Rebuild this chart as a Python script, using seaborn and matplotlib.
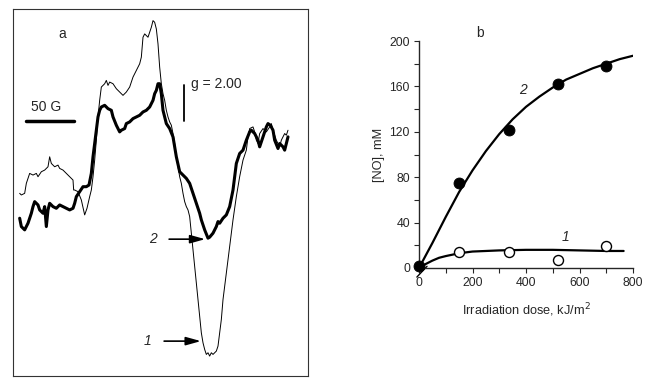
import numpy as np
import pandas as pd
import matplotlib
matplotlib.use("Agg")
import matplotlib.pyplot as plt
import seaborn as sns

field_1 = [60, 65, 75, 80, 90, 100, 110, 115, 125, 135, 145, 150, 155, 165, 175, 180, 190, 200, 210, 220,
           222, 225, 235, 245, 255, 262, 270, 275, 280, 285, 290, 295, 300, 305, 315, 320, 325, 330, 340,
           350, 360, 370, 380, 390, 400, 410, 420, 425, 430, 435, 440, 445, 450, 455, 460, 465, 470, 475,
           480, 485, 490, 495, 500, 505, 510, 515, 520, 525, 530, 535, 540, 545, 550, 555, 560, 565, 570,
           575, 580, 585, 590, 595, 600, 605, 610, 615, 620, 625, 630, 635, 640, 650, 655, 660, 665, 670,
           680, 690, 700, 710, 720, 730, 740, 745, 750, 760, 765, 770, 775, 780, 790, 800, 810, 815, 820,
           830, 840, 845, 850, 855, 860, 865]
depth_1 = [580, 585, 580, 550, 520, 525, 520, 530, 515, 510, 500, 470, 490, 500, 495, 505, 510, 520, 530, 540,
           570, 570, 575, 600, 645, 625, 590, 570, 530, 480, 420, 350, 300, 260, 250, 240, 255, 245, 250,
           265, 275, 285, 275, 260, 230, 210, 190, 170, 110, 100, 105, 110, 95, 80, 60, 65, 85, 130,
           200, 250, 280, 300, 330, 350, 365, 375, 400, 430, 470, 500, 530, 550, 580, 605, 620, 630, 650,
           700, 750, 800, 850, 900, 950, 1000, 1030, 1050, 1065, 1060, 1070, 1060, 1065, 1055, 1040, 1000, 960, 900,
           820, 740, 660, 590, 530, 480, 450, 410, 385, 380, 395, 420, 430, 400, 385, 395, 380, 370, 390,
           420, 440, 420, 410, 400, 405, 390]

field_2 = [60, 65, 75, 85, 95, 100, 105, 115, 120, 130, 135, 140, 145, 150, 160, 170, 180, 190, 200, 210,
           220, 225, 230, 240, 250, 260, 268, 275, 280, 285, 290, 295, 300, 305, 315, 325, 335, 340, 350,
           360, 365, 375, 380, 390, 400, 410, 420, 430, 440, 450, 460, 465, 470, 475, 480, 485, 490, 500,
           510, 520, 530, 540, 550, 560, 570, 580, 590, 600, 605, 615, 625, 630, 640, 650, 655, 660, 670,
           680, 690, 700, 710, 720, 730, 740, 750, 755, 765, 775, 780, 790, 800, 805, 812, 820, 825, 835,
           840, 850, 855, 860, 865]
depth_2 = [655, 680, 690, 670, 640, 620, 605, 615, 630, 640, 620, 680, 630, 610, 620, 625, 615, 620, 625, 630,
           625, 610, 590, 575, 560, 560, 555, 520, 470, 430, 390, 350, 330, 320, 315, 325, 330, 350, 375,
           395, 390, 385, 370, 365, 355, 350, 345, 335, 330, 320, 300, 280, 270, 250, 250, 280, 330, 370,
           385, 410, 470, 515, 525, 535, 550, 580, 610, 640, 660, 690, 715, 712, 700, 680, 665, 670, 655,
           645, 620, 570, 490, 460, 450, 420, 395, 390, 400, 420, 440, 410, 380, 370, 375, 390, 420, 445,
           430, 440, 450, 430, 410]

# panel b: NO vs irradiation dose
dose = [0, 150, 335, 520, 700]
no_dark = [2, 75, 122, 162, 178]     # filled circles, curve 2
no_open = [2, 14, 14, 7, 19]         # open circles, curve 1
fit_dose_2 = [0, 50, 100, 150, 200, 250, 300, 350, 400, 450, 500, 550, 600, 650, 700, 750, 800]
fit_no_2 = [0, 22, 45, 67, 86, 103, 118, 131, 142, 151, 159, 166, 171, 176, 180, 184, 187]
fit_dose_1 = [0, 25, 50, 75, 100, 150, 200, 300, 400, 500, 600, 700, 765]
fit_no_1 = [0, 3.5, 6.5, 9, 10.5, 13, 14.5, 15.5, 16, 16, 15.5, 15, 15]

sns.set_style("ticks")
plt.rcParams['font.family'] = ['Liberation Sans', 'DejaVu Sans']

fig = plt.figure(figsize=(6.55, 3.86), dpi=100)

# ---- panel a
axa = fig.add_axes([13 / 655, 1 - 376 / 386, 295 / 655, 367 / 386])
top = 1130
tr1 = pd.DataFrame({"field": field_1, "signal": top - np.array(depth_1)})
tr2 = pd.DataFrame({"field": field_2, "signal": top - np.array(depth_2)})
sns.lineplot(data=tr1, x="field", y="signal", ax=axa, color="black", lw=0.7, sort=False)
sns.lineplot(data=tr2, x="field", y="signal", ax=axa, color="black", lw=2.2, sort=False)
axa.set_xlim(40, 925)
axa.set_ylim(0, top - 25)
axa.set_xticks([])
axa.set_yticks([])
axa.set_xlabel("")
axa.set_ylabel("")
for s in axa.spines.values():
    s.set_linewidth(0.8)
    s.set_color("#333333")

fs_a = 10
axa.text(187, top - 100, "a", fontsize=fs_a, ha="center", va="center")
axa.text(138, top - 320, "50 G", fontsize=fs_a, ha="center", va="center")
axa.plot([80, 222], [top - 363, top - 363], color="black", lw=2.5)
axa.plot([553, 553], [top - 255, top - 362], color="black", lw=1.3)
axa.text(575, top - 250, "g = 2.00", fontsize=fs_a, ha="left", va="center")
arrow = dict(arrowstyle="-|>,head_length=0.9,head_width=0.25", color="black", lw=1.2)
axa.annotate("", xy=(625, top - 718), xytext=(500, top - 718), arrowprops=arrow)
axa.annotate("", xy=(612, top - 1025), xytext=(485, top - 1025), arrowprops=arrow)
axa.text(460, top - 718, "2", fontsize=fs_a, style="italic", ha="center", va="center")
axa.text(443, top - 1025, "1", fontsize=fs_a, style="italic", ha="center", va="center")

# ---- panel b
axb = fig.add_axes([419 / 655, 1 - 268 / 386, 214 / 655, 227 / 386])
sns.lineplot(x=fit_dose_2, y=fit_no_2, ax=axb, color="black", lw=1.6)
sns.lineplot(x=fit_dose_1, y=fit_no_1, ax=axb, color="black", lw=1.6)
sns.scatterplot(x=dose, y=no_dark, ax=axb, color="black", s=62, edgecolor="black", zorder=5, clip_on=False)
sns.scatterplot(x=dose[1:], y=no_open[1:], ax=axb, facecolor="white", s=52, edgecolor="black",
                linewidth=1.0, zorder=6, clip_on=False)
axb.set_xlim(0, 800)
axb.set_ylim(0, 200)
axb.set_xticks([0, 200, 400, 600, 800])
axb.set_xticks([100, 300, 500, 700], minor=True)
axb.set_yticks([0, 40, 80, 120, 160, 200])
axb.set_yticks([20, 60, 100, 140, 180], minor=True)
axb.tick_params(which="both", direction="out", length=3.5, width=0.8, labelsize=8.8, pad=3)
sns.despine(ax=axb)
for s in ("left", "bottom"):
    axb.spines[s].set_linewidth(1.0)
axb.set_xlabel("Irradiation dose, kJ/m$^2$", fontsize=9.2, labelpad=9)
axb.set_ylabel("[NO], mM", fontsize=9.2, labelpad=3)
axb.text(389, 157, "2", fontsize=fs_a, style="italic", ha="center", va="center")
axb.text(546, 27, "1", fontsize=fs_a, style="italic", ha="center", va="center")
axb.text(228, 207, "b", fontsize=fs_a, ha="center", va="center", clip_on=False)
axb.plot([-8, 30], [-8, 1.5], color="black", lw=1.0, clip_on=False)

fig.savefig("out.png", dpi=100)
